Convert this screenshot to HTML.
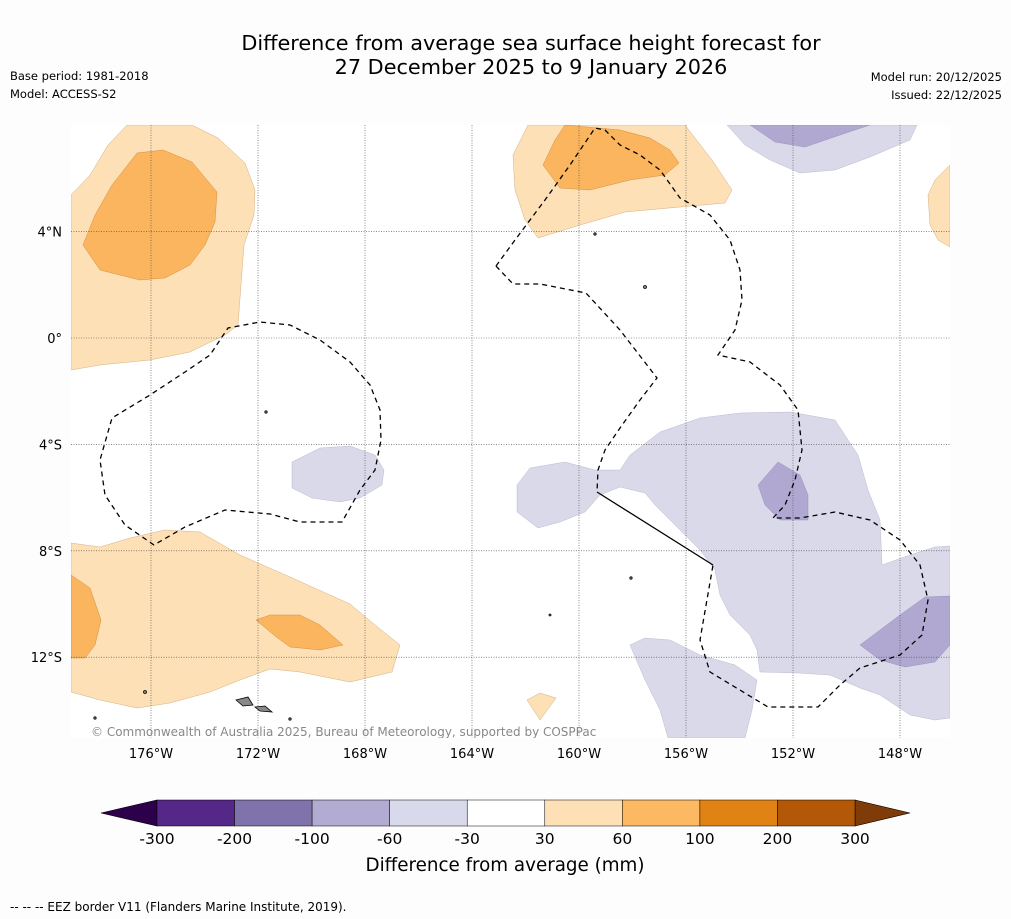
<!DOCTYPE html>
<html><head><meta charset="utf-8"><style>
body{margin:0;background:#fdfdfd;font-family:"DejaVu Sans","Liberation Sans",sans-serif;}
svg{display:block}
</style></head><body>
<svg id="chart" width="1011" height="919" xmlns="http://www.w3.org/2000/svg">
<rect width="1011" height="919" fill="#fdfdfd"/>
<text x="531" y="50" font-size="20.8" text-anchor="middle" fill="#000">Difference from average sea surface height forecast for</text>
<text x="531" y="74" font-size="20.8" text-anchor="middle" fill="#000">27 December 2025 to 9 January 2026</text>
<text x="10" y="80" font-size="11.5">Base period: 1981-2018</text>
<text x="10" y="98" font-size="11.5">Model: ACCESS-S2</text>
<text x="1002" y="81" font-size="11.5" text-anchor="end">Model run: 20/12/2025</text>
<text x="1002" y="99" font-size="11.5" text-anchor="end">Issued: 22/12/2025</text>
<g>
<clipPath id="clip"><rect x="71" y="125" width="879" height="613"/></clipPath>
<g clip-path="url(#clip)">
<rect x="71" y="125" width="879" height="613" fill="#ffffff"/>
<g fill="#fde0b6" stroke="#c8a070" stroke-width="0.4">
<path d="M71,195 L90,175 L108,145 L127,125 L192,125 L218,138 L245,163 L255,190 L254,215 L244,245 L238,325 L225,335 L190,352 L150,360 L100,365 L71,370 Z"/>
<path d="M528,125 L685,125 L712,160 L732,190 L725,203 L680,207 L625,212 L580,225 L538,238 L525,220 L515,190 L513,155 Z"/>
<path d="M950,165 L935,180 L928,195 L930,225 L938,240 L950,247 Z"/>
<path d="M71,543 L100,547 L130,538 L165,530 L200,532 L240,555 L290,577 L350,604 L375,625 L400,645 L392,672 L350,682 L300,672 L270,669 L240,680 L210,692 L170,703 L137,708 L100,700 L71,692 Z"/>
<path d="M527,700 L540,693 L556,698 L540,720 Z"/>
</g>
<g fill="#fbb55f" stroke="#c88030" stroke-width="0.4">
<path d="M83,245 L95,215 L112,185 L137,153 L163,150 L192,162 L217,192 L215,222 L205,245 L190,265 L165,278 L140,280 L100,270 Z"/>
<path d="M565,125 L620,130 L650,138 L670,150 L679,163 L665,175 L630,180 L590,190 L560,188 L543,165 L555,140 Z"/>
<path d="M71,575 L90,588 L101,620 L95,645 L85,658 L71,658 Z"/>
<path d="M256,620 L270,615 L300,615 L320,625 L343,645 L320,650 L290,647 L275,636 Z"/>
</g>
<g fill="#d9d9ea" stroke="#b0b0c8" stroke-width="0.4">
<path d="M727,125 L917,125 L910,140 L870,157 L835,170 L800,173 L770,160 L745,145 Z"/>
<path d="M292,462 L320,448 L350,446 L375,455 L384,470 L382,485 L360,498 L340,502 L312,498 L292,488 Z"/>
<path d="M517,485 L530,468 L565,462 L595,470 L620,470 L630,455 L660,432 L700,418 L740,413 L790,412 L835,420 L858,455 L868,490 L880,520 L882,565 L910,555 L935,547 L950,546 L950,718 L935,720 L910,715 L880,695 L860,688 L830,675 L798,673 L760,672 L757,650 L750,635 L730,615 L720,595 L715,570 L700,550 L680,530 L655,505 L645,493 L620,487 L600,495 L585,512 L560,522 L538,528 L517,512 Z"/>
<path d="M630,645 L645,638 L670,640 L700,655 L735,665 L757,680 L752,710 L745,738 L668,738 L660,710 L645,680 Z"/>
</g>
<g fill="#b0a8d0" stroke="#9088b8" stroke-width="0.4">
<path d="M750,125 L870,125 L840,135 L805,147 L775,142 Z"/>
<path d="M758,485 L778,462 L800,475 L808,495 L808,520 L780,520 L765,505 Z"/>
<path d="M860,645 L900,615 L925,597 L950,596 L950,645 L935,662 L905,667 L880,660 Z"/>
</g>
<g id="grid" stroke="#444" stroke-width="0.6" stroke-dasharray="1,1.5"></g>
<g fill="none" stroke="#000" stroke-width="1.3">
<path stroke-dasharray="5,4" d="M154,545 L125,525 L105,495 L100,460 L112,418 L150,395 L185,372 L210,355 L228,328 L260,322 L290,325 L320,340 L350,362 L370,385 L380,410 L381,440 L375,470 L360,490 L342,522 L300,522 L270,514 L225,510 L185,527 Z"/>
<path stroke-dasharray="5,4" d="M496,266 L515,240 L545,200 L570,165 L595,128 L605,130 L620,145 L640,155 L660,170 L680,198 L710,215 L730,240 L740,270 L742,300 L735,330 L718,355 L750,362 L780,385 L798,410 L802,450 L795,480 L785,505 L773,518 L800,518 L835,512 L870,520 L900,540 L920,565 L928,600 L922,635 L900,655 L860,668 L840,685 L818,707 L768,707 L710,672 L700,640 L713,565"/>
<path stroke-dasharray="5,4" d="M496,266 L513,284 L540,284 L586,293 L620,330 L657,378 L640,400 L620,428 L605,450 L598,470 L597,492"/>
<path d="M597,492 L713,565"/>
</g>
<g fill="#888" stroke="#000" stroke-width="0.8">
<path d="M236,700 L248,697 L253,705 L243,706 Z"/>
<path d="M255,707 L265,706 L272,712 L260,711 Z"/>
<circle cx="145" cy="692" r="1.5"/><circle cx="266" cy="412" r="1.2"/><circle cx="645" cy="287" r="1.5"/><circle cx="595" cy="234" r="1.2"/>
<circle cx="550" cy="615" r="1"/><circle cx="631" cy="578" r="1.2"/><circle cx="290" cy="719" r="1.2"/><circle cx="95" cy="718" r="1.2"/>
</g>
<text x="91" y="736" font-size="12" fill="#888">© Commonwealth of Australia 2025, Bureau of Meteorology, supported by COSPPac</text>
</g>
<g id="axes" font-size="13" fill="#000"></g>
</g>
<g id="cbar"></g>
<text x="505" y="871" font-size="18.3" text-anchor="middle">Difference from average (mm)</text>
<text x="10" y="911" font-size="12">--  --  -- EEZ border V11 (Flanders Marine Institute, 2019).</text>
</svg>
<script>
const NS="http://www.w3.org/2000/svg";
const lonTicks=[-176,-172,-168,-164,-160,-156,-152,-148];
const latTicks=[4,0,-4,-8,-12];
const cbarBounds=[-300,-200,-100,-60,-30,30,60,100,200,300];
const cbarColors=["#542788","#8073ac","#b2abd2","#d8daeb","#ffffff","#fee0b6","#fdb863","#e08214","#b35806"];
const cbarLow="#2d004b", cbarHigh="#7f3b08";
const xOf=lon=>151+(lon+176)*26.75;
const yOf=lat=>338-lat*26.6;
const grid=document.getElementById('grid'), axes=document.getElementById('axes');
function mk(t,a,p){const e=document.createElementNS(NS,t);for(const k in a)e.setAttribute(k,a[k]);p.appendChild(e);return e;}
lonTicks.forEach(v=>{
 const l=mk('line',{x1:xOf(v),x2:xOf(v),y1:125,y2:738},grid);
 
 
 const t=mk('text',{x:xOf(v),y:758,'text-anchor':'middle'},axes);t.textContent=Math.abs(v)+'°W';
 
 
});
latTicks.forEach(v=>{
 const l=mk('line',{x1:71,x2:950,y1:yOf(v),y2:yOf(v)},grid);
 
 
 const t=mk('text',{x:62,y:yOf(v)+5,'text-anchor':'end'},axes);t.textContent=v===0?'0°':Math.abs(v)+'°'+(v>0?'N':'S');
 
 
});
const cb=document.getElementById('cbar');
const cx0=157,cx1=855,cy=800,ch=26,n=cbarColors.length,w=(cx1-cx0)/n;
const lo=mk('polygon',{points:`${cx0},${cy} ${cx0},${cy+ch} 101,${cy+ch/2}`,fill:cbarLow,stroke:'#000','stroke-width':0.6},cb);


const hi=mk('polygon',{points:`${cx1},${cy} ${cx1},${cy+ch} 910,${cy+ch/2}`,fill:cbarHigh,stroke:'#000','stroke-width':0.6},cb);


cbarColors.forEach((c,i)=>{
 const r=mk('rect',{x:cx0+i*w,y:cy,width:w,height:ch,fill:c,stroke:'#000','stroke-width':0.5},cb);
 
 
});
cbarBounds.forEach((b,i)=>{
 const t=mk('text',{x:cx0+i*w,y:844,'font-size':15.5,'text-anchor':'middle'},cb);t.textContent=b;
 
 
});
</script>
</body></html>
